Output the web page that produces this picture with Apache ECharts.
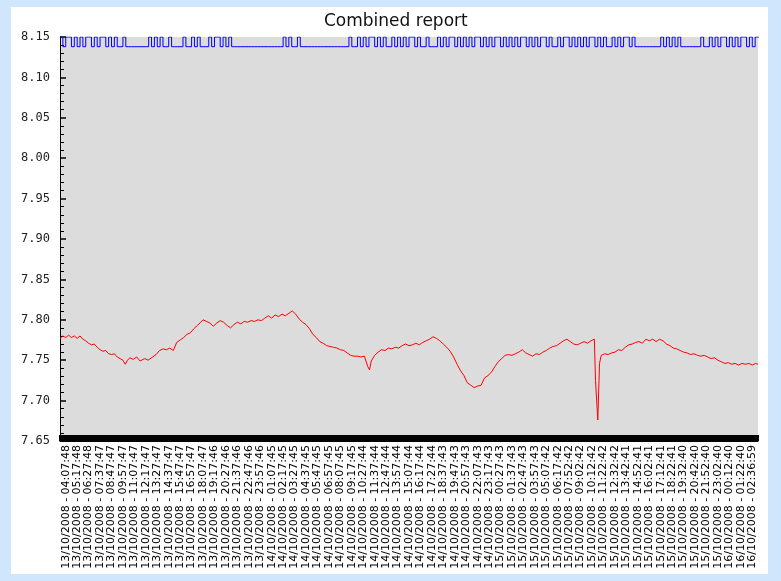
<!DOCTYPE html>
<html>
<head>
<meta charset="utf-8">
<title>Combined report</title>
<script src="https://cdn.jsdelivr.net/npm/echarts@6/dist/echarts.min.js"></script>
<style>
  html, body { margin: 0; padding: 0; background: #cfe6fc; }
  #chart { position: absolute; left: 11px; top: 7px; width: 757px; height: 567px; background: #fff; }
</style>
</head>
<body>
<div id="chart"></div>
<script>
// ─── tick labels on the time axis (one per label slot) ──────────
const timeLabels = [
  '13/10/2008 - 04:07:48', '13/10/2008 - 05:17:48', '13/10/2008 - 06:27:48', '13/10/2008 - 07:37:47',
  '13/10/2008 - 08:47:47', '13/10/2008 - 09:57:47', '13/10/2008 - 11:07:47', '13/10/2008 - 12:17:47',
  '13/10/2008 - 13:27:47', '13/10/2008 - 14:37:47', '13/10/2008 - 15:47:47', '13/10/2008 - 16:57:47',
  '13/10/2008 - 18:07:47', '13/10/2008 - 19:17:46', '13/10/2008 - 20:27:46', '13/10/2008 - 21:37:46',
  '13/10/2008 - 22:47:46', '13/10/2008 - 23:57:46', '14/10/2008 - 01:07:45', '14/10/2008 - 02:17:45',
  '14/10/2008 - 03:27:45', '14/10/2008 - 04:37:45', '14/10/2008 - 05:47:45', '14/10/2008 - 06:57:45',
  '14/10/2008 - 08:07:45', '14/10/2008 - 09:17:45', '14/10/2008 - 10:27:44', '14/10/2008 - 11:37:44',
  '14/10/2008 - 12:47:44', '14/10/2008 - 13:57:44', '14/10/2008 - 15:07:44', '14/10/2008 - 16:17:44',
  '14/10/2008 - 17:27:44', '14/10/2008 - 18:37:43', '14/10/2008 - 19:47:43', '14/10/2008 - 20:57:43',
  '14/10/2008 - 22:07:43', '14/10/2008 - 23:17:43', '15/10/2008 - 00:27:43', '15/10/2008 - 01:37:43',
  '15/10/2008 - 02:47:43', '15/10/2008 - 03:57:43', '15/10/2008 - 05:07:42', '15/10/2008 - 06:17:42',
  '15/10/2008 - 07:52:42', '15/10/2008 - 09:02:42', '15/10/2008 - 10:12:42', '15/10/2008 - 11:22:42',
  '15/10/2008 - 12:32:42', '15/10/2008 - 13:42:41', '15/10/2008 - 14:52:41', '15/10/2008 - 16:02:41',
  '15/10/2008 - 17:12:41', '15/10/2008 - 18:22:41', '15/10/2008 - 19:32:40', '15/10/2008 - 20:42:40',
  '15/10/2008 - 21:52:40', '15/10/2008 - 23:02:40', '16/10/2008 - 00:12:40', '16/10/2008 - 01:22:40',
  '16/10/2008 - 02:36:59'
];

// ─── red series: [label slot, value] ─────────────────────────────
const redPoints = [
  [-0.5, 7.777], [-0.25, 7.780], [0, 7.778], [0.25, 7.781], [0.5, 7.778], [0.75, 7.780], [1.0, 7.777],
  [1.25, 7.780], [1.5, 7.776], [1.75, 7.774], [2.0, 7.771], [2.25, 7.769], [2.5, 7.770], [2.75, 7.766],
  [3.0, 7.763], [3.25, 7.761], [3.5, 7.762], [3.75, 7.758], [4.0, 7.757], [4.25, 7.758], [4.5, 7.754],
  [4.75, 7.752], [5.0, 7.750], [5.2, 7.745], [5.4, 7.750], [5.6, 7.753], [5.9, 7.751], [6.2, 7.754],
  [6.5, 7.749], [6.9, 7.752], [7.2, 7.750], [7.6, 7.754], [7.9, 7.757], [8.2, 7.762], [8.5, 7.764],
  [8.8, 7.763], [9.1, 7.765], [9.4, 7.762], [9.7, 7.772], [10.0, 7.775], [10.3, 7.778], [10.6, 7.782],
  [10.9, 7.784], [11.2, 7.789], [11.5, 7.793], [11.8, 7.797], [12.0, 7.800], [12.3, 7.798], [12.6, 7.796],
  [12.9, 7.792], [13.2, 7.796], [13.5, 7.799], [13.8, 7.797], [14.1, 7.793], [14.4, 7.790], [14.7, 7.794],
  [15.0, 7.797], [15.3, 7.795], [15.6, 7.798], [15.9, 7.797], [16.2, 7.799], [16.5, 7.798], [16.8, 7.800],
  [17.1, 7.799], [17.4, 7.802], [17.7, 7.805], [18.0, 7.802], [18.3, 7.806], [18.6, 7.804], [18.9, 7.807],
  [19.2, 7.805], [19.5, 7.808], [19.8, 7.811], [20.1, 7.807], [20.4, 7.801], [20.7, 7.797], [21.0, 7.794],
  [21.3, 7.789], [21.6, 7.782], [21.9, 7.778], [22.2, 7.773], [22.5, 7.771], [22.8, 7.768], [23.1, 7.767],
  [23.4, 7.766], [23.7, 7.765], [24.0, 7.763], [24.3, 7.762], [24.6, 7.759], [24.9, 7.756], [25.2, 7.755],
  [25.5, 7.755], [25.8, 7.754], [26.1, 7.755], [26.4, 7.742], [26.55, 7.738], [26.7, 7.749], [27.0, 7.756],
  [27.3, 7.760], [27.6, 7.763], [27.9, 7.762], [28.2, 7.765], [28.5, 7.764], [28.8, 7.766], [29.1, 7.765],
  [29.4, 7.768], [29.7, 7.770], [30.0, 7.768], [30.3, 7.769], [30.6, 7.771], [30.9, 7.769], [31.2, 7.772],
  [31.5, 7.774], [31.8, 7.776], [32.1, 7.779], [32.4, 7.777], [32.7, 7.774], [33.0, 7.770], [33.3, 7.766],
  [33.6, 7.761], [33.9, 7.754], [34.2, 7.745], [34.5, 7.737], [34.8, 7.731], [35.1, 7.722], [35.4, 7.719],
  [35.7, 7.716], [36.0, 7.718], [36.3, 7.719], [36.6, 7.728], [36.9, 7.731], [37.2, 7.735], [37.5, 7.742],
  [37.8, 7.748], [38.1, 7.752], [38.4, 7.756], [38.7, 7.757], [39.0, 7.756], [39.3, 7.758], [39.6, 7.760],
  [39.9, 7.763], [40.2, 7.759], [40.5, 7.757], [40.8, 7.755], [41.1, 7.758], [41.4, 7.757], [41.7, 7.760],
  [42.0, 7.762], [42.3, 7.765], [42.6, 7.767], [42.9, 7.768], [43.2, 7.771], [43.5, 7.774], [43.8, 7.776],
  [44.1, 7.773], [44.4, 7.770], [44.7, 7.769], [45.0, 7.771], [45.3, 7.773], [45.6, 7.771], [45.9, 7.774],
  [46.2, 7.776], [46.3, 7.725], [46.5, 7.676], [46.65, 7.746], [46.8, 7.756], [47.1, 7.758], [47.4, 7.757],
  [47.7, 7.759], [48.0, 7.760], [48.3, 7.763], [48.6, 7.762], [48.9, 7.766], [49.2, 7.769], [49.5, 7.770],
  [49.8, 7.772], [50.1, 7.773], [50.4, 7.771], [50.7, 7.776], [51.0, 7.774], [51.3, 7.776], [51.6, 7.773],
  [51.9, 7.776], [52.2, 7.774], [52.5, 7.770], [52.8, 7.768], [53.1, 7.765], [53.4, 7.764], [53.7, 7.762],
  [54.0, 7.760], [54.3, 7.759], [54.6, 7.757], [54.9, 7.758], [55.2, 7.756], [55.5, 7.755], [55.8, 7.756],
  [56.1, 7.754], [56.4, 7.752], [56.7, 7.753], [57.0, 7.750], [57.3, 7.748], [57.6, 7.746], [57.9, 7.747],
  [58.2, 7.745], [58.5, 7.746], [58.8, 7.744], [59.1, 7.746], [59.4, 7.745], [59.7, 7.746], [60.0, 7.744],
  [60.3, 7.746], [60.5, 7.745]
];

// ─── blue series: on/off state every quarter label slot, from -0.5 ──
const blueStart = -0.5;
const blueStep = 0.25;
const blueHigh = 8.15;
const blueLow = 8.138;
const blueState = [
  1,0,1,1,0,1,0,1,0,1,  1,0,1,0,1,1,0,1,0,1,  0,0,1,0,0,0,0,0,0,0,  0,1,0,1,0,1,0,0,1,0,
  0,0,0,1,0,0,1,0,1,0,  0,0,1,0,1,1,0,1,0,1,  0,0,0,0,0,0,0,0,0,0,  0,0,0,0,0,0,0,0,1,0,
  1,0,0,1,0,0,0,0,0,0,  0,0,0,0,0,0,0,0,0,0,  0,1,0,0,1,0,1,0,1,1,  0,1,0,1,0,0,1,0,1,0,
  1,0,1,1,0,1,0,0,1,0,  0,0,1,0,1,0,1,1,0,1,  0,1,0,1,0,1,1,0,1,0,  1,0,1,1,0,1,0,1,0,1,
  0,1,1,0,1,0,1,0,1,1,  0,1,0,0,1,0,1,1,0,1,  0,1,0,1,0,1,1,0,1,0,  1,0,0,1,0,1,0,1,1,0,
  1,0,0,0,0,0,0,0,0,0,  1,0,1,0,1,0,1,0,0,0,  0,0,0,0,1,0,0,1,0,1,  0,1,1,0,1,0,1,0,1,1,
  0,1,0,1,1
];

const yMin = 7.65;
const yMax = 8.15;
const yStep = 0.05;

const bluePoints = blueState.map((s, k) => [blueStart + k * blueStep, s ? blueHigh : blueLow]);
bluePoints.push([blueStart + blueState.length * blueStep, bluePoints[bluePoints.length - 1][1]]);

const chart = echarts.init(document.getElementById('chart'), null, { renderer: 'canvas' });

chart.setOption({
  animation: false,
  backgroundColor: '#ffffff',
  title: {
    text: 'Combined report',
    left: 308,
    top: 1,
    textStyle: { fontFamily: 'DejaVu Sans', fontSize: 17, fontWeight: 'normal', color: '#111' }
  },
  grid: {
    left: 49, top: 30, right: 10, bottom: 133,
    containLabel: false, outerBoundsMode: 'none',
    show: true, backgroundColor: '#dcdcdc', borderWidth: 0
  },
  xAxis: [
    {
      type: 'category',
      data: timeLabels,
      boundaryGap: true,
      position: 'bottom',
      axisLine: { show: false },
      axisTick: { show: false },
      splitLine: { show: false },
      axisLabel: {
        interval: 0, rotate: 90, margin: 4,
        fontFamily: 'DejaVu Sans', fontSize: 11, color: '#000'
      }
    },
    {
      // dense ticks along the bottom of the plot
      type: 'value',
      min: -0.5, max: 60.5, interval: 0.5,
      position: 'bottom',
      axisLine: { show: true, onZero: false, lineStyle: { color: '#000', width: 1 } },
      axisTick: { show: true, inside: true, length: 6, lineStyle: { color: '#000', width: 2 } },
      minorTick: { show: true, splitNumber: 5, length: 6, lineStyle: { color: '#000', width: 2 } },
      axisLabel: { show: false },
      splitLine: { show: false }
    }
  ],
  yAxis: {
    type: 'value',
    min: yMin, max: yMax, interval: yStep,
    name: 'Units',
    nameLocation: 'middle',
    nameGap: 36,
    nameTextStyle: { fontFamily: 'DejaVu Sans', fontSize: 11, color: '#333' },
    axisLine: { show: true, onZero: false, lineStyle: { color: '#000', width: 1 } },
    axisTick: { show: true, inside: true, length: 6, lineStyle: { color: '#000', width: 1.5 } },
    minorTick: { show: true, splitNumber: 5, length: 4, lineStyle: { color: '#000', width: 1 } },
    splitLine: { show: false },
    axisLabel: {
      margin: 10,
      fontFamily: 'DejaVu Sans Mono', fontSize: 12, color: '#222',
      formatter: v => v.toFixed(2)
    }
  },
  series: [
    {
      name: 'blue',
      type: 'line',
      xAxisIndex: 1,
      step: 'end',
      data: bluePoints,
      showSymbol: false,
      lineStyle: { color: '#0000ff', width: 1 },
      clip: true
    },
    {
      name: 'red',
      type: 'line',
      xAxisIndex: 1,
      data: redPoints,
      showSymbol: false,
      lineStyle: { color: '#ff0000', width: 1 },
      clip: true
    }
  ]
});
</script>
</body>
</html>
